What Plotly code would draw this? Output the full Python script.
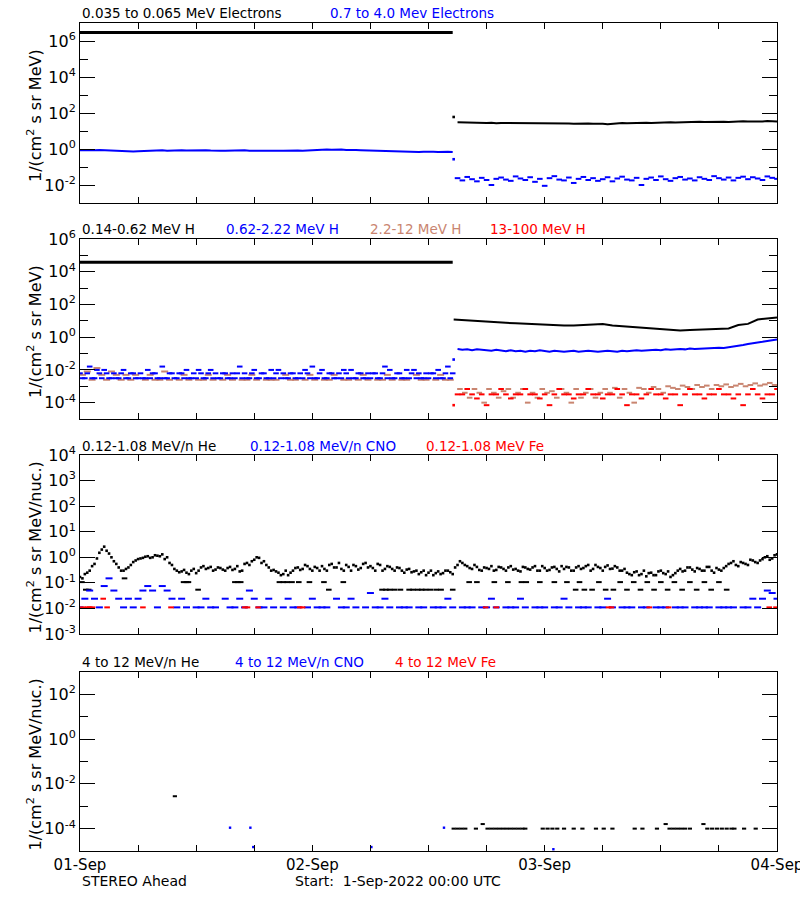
import numpy as np
import plotly.graph_objects as go

FONT = "DejaVu Sans"
BLUE = "#0000FF"
RED = "#FF0000"
BROWN = "#C98570"
BLACK = "#000000"

# ---------------- data (time in hours since 1-Sep-2022 00:00 UTC) ----------------
jump_t = 38.6

# Panel 1: electrons
e_lo_seg1_t = [0.0, 38.5]
e_lo_seg1 = [3.0e6, 3.0e6]
e_lo_jump = 60.0
e_lo_seg2 = [31, 30, 29, 30, 28, 29, 28, 29, 27, 28,
             28, 27, 28, 26, 27, 28, 27, 26, 27, 26,
             27, 26, 27, 26, 25, 26, 27, 26, 25, 26,
             25, 24, 26, 27, 28, 27, 28, 29, 28, 29,
             28, 29, 30, 29, 31, 30, 31, 32, 31, 32,
             33, 32, 33, 32, 34, 33, 32, 34, 33, 35,
             34, 33, 35, 34, 36, 35, 34]
e_hi_seg1 = [0.86, 0.84, 0.88, 0.85, 0.87, 0.84, 0.86, 0.80, 0.76, 0.74,
             0.75, 0.73, 0.74, 0.77, 0.75, 0.79, 0.82, 0.84, 0.81, 0.85,
             0.83, 0.86, 0.82, 0.84, 0.80, 0.83, 0.85, 0.82, 0.84, 0.81,
             0.80, 0.83, 0.79, 0.82, 0.84, 0.80, 0.81, 0.83, 0.80, 0.82,
             0.84, 0.81, 0.79, 0.82, 0.80, 0.83, 0.81, 0.84, 0.86, 0.88,
             0.91, 0.94, 0.90, 0.96, 0.93, 0.89, 0.92, 0.88, 0.86, 0.84,
             0.82, 0.84, 0.80, 0.82, 0.79, 0.75, 0.72, 0.68, 0.70, 0.67,
             0.69, 0.71, 0.68, 0.70, 0.69, 0.72, 0.70, 0.68]
e_hi_jump = 0.27
e_hi_seg2 = [0.024, 0.018, 0.028, 0.021, 0.016, 0.025, 0.019, 0.010, 0.022, 0.026,
             0.020, 0.017, 0.030, 0.023, 0.019, 0.027, 0.015, 0.022, 0.009, 0.024,
             0.031, 0.020, 0.018, 0.026, 0.013, 0.022, 0.028, 0.019, 0.024, 0.017,
             0.021, 0.027, 0.016, 0.023, 0.029, 0.020, 0.018, 0.025, 0.010, 0.022,
             0.026, 0.019, 0.030, 0.021, 0.017, 0.024, 0.028, 0.020, 0.023, 0.018,
             0.027, 0.022, 0.019, 0.031, 0.024, 0.020, 0.026, 0.018, 0.025, 0.029,
             0.021, 0.027, 0.023, 0.019, 0.030, 0.025, 0.022]

# Panel 2: protons
h1_seg1_t = [0.0, 38.5]
h1_seg1 = [3.8e4, 3.8e4]
h1_jump = 12.0
h1_seg2 = [11.5, 10.5, 9.5, 8.5, 8.0, 7.5, 7.0, 6.5, 6.2, 5.9,
           5.5, 5.2, 5.1, 5.6, 6.2, 6.3, 5.2, 4.7, 4.3, 3.8,
           3.4, 3.0, 2.7, 2.6, 2.7, 2.8, 2.9, 3.1, 3.4, 5.5,
           6.5, 12.0, 14.0, 16.0]
h2_seg1 = [0.0062, 0.0031, 0.016, 0.0031, 0.0062, 0.010, 0.0031, 0.0062, 0.0031, 0.010,
           0.0031, 0.0062, 0.0031, 0.0031, 0.010, 0.0062, 0.0031, 0.016, 0.0031, 0.0062,
           0.0031, 0.0062, 0.010, 0.0031, 0.0031, 0.0062, 0.0031, 0.010, 0.0062, 0.0031,
           0.0062, 0.0031, 0.0031, 0.016, 0.0062, 0.0031, 0.010, 0.0031, 0.0062, 0.0031,
           0.0031, 0.010, 0.0062, 0.0031, 0.0062, 0.0031, 0.0031, 0.0062, 0.016, 0.0031,
           0.010, 0.0031, 0.0062, 0.0031, 0.0031, 0.0062, 0.010, 0.0031, 0.0062, 0.0031,
           0.0031, 0.0062, 0.0031, 0.016, 0.010, 0.0031, 0.0062, 0.0031, 0.0031, 0.010,
           0.0062, 0.0031, 0.0031, 0.0062, 0.010, 0.0031, 0.016, 0.0062]
h2_seg1_b = [0.0031, 0.0062, 0.0031, 0.010, 0.0031, 0.0062, 0.0031, 0.0031, 0.0062, 0.0031,
             0.0062, 0.0031, 0.0062, 0.0031, 0.0031, 0.0062, 0.0031, 0.0031, 0.0062, 0.0031,
             0.0062, 0.0031, 0.0031, 0.0062, 0.010, 0.0031, 0.0062, 0.0031, 0.0031, 0.0062,
             0.0031, 0.0062, 0.0062, 0.0031, 0.0031, 0.0062, 0.0031, 0.0062, 0.0031, 0.010,
             0.0062, 0.0031, 0.0031, 0.0062, 0.0031, 0.0062, 0.010, 0.0031, 0.0031, 0.0062,
             0.0031, 0.0062, 0.0031, 0.0062, 0.010, 0.0031, 0.0031, 0.0062, 0.0031, 0.0062,
             0.0062, 0.0031, 0.0062, 0.0031, 0.0031, 0.0062, 0.0031, 0.010, 0.0062, 0.0031,
             0.0031, 0.0062, 0.0062, 0.0031, 0.0031, 0.0062, 0.0031]
h2_jump = 0.043
h2_seg2 = [0.19, 0.17, 0.18, 0.16, 0.18, 0.17, 0.16, 0.15, 0.17, 0.15,
           0.14, 0.16, 0.14, 0.15, 0.13, 0.15, 0.14, 0.16, 0.14, 0.13,
           0.15, 0.14, 0.13, 0.14, 0.15, 0.13, 0.14, 0.15, 0.14, 0.13,
           0.14, 0.15, 0.14, 0.13, 0.15, 0.14, 0.15, 0.16, 0.15, 0.16,
           0.16, 0.17, 0.16, 0.18, 0.17, 0.18, 0.19, 0.18, 0.20, 0.19,
           0.20, 0.21, 0.20, 0.22, 0.23, 0.22, 0.24, 0.26, 0.30, 0.33,
           0.38, 0.44, 0.48, 0.52, 0.58, 0.64, 0.72]
h3_seg1 = [0.005, 0.008, 0.0025, 0.013, 0.005, 0.0025, 0.008, 0.005, 0.0025, 0.005,
           0.0025, 0.005, None, 0.0025, 0.005, 0.0025, 0.0025, 0.008, 0.0025, None,
           0.0025, 0.005, 0.0025, None, 0.0025, 0.0025, 0.005, 0.0025, None, 0.0025,
           0.005, 0.0025, None, 0.0025, 0.0025, 0.005, 0.0025, None, 0.0025, 0.0025,
           0.0025, None, 0.005, 0.0025, 0.0025, None, 0.0025, 0.005, 0.0025, None,
           0.0025, 0.0025, 0.005, None, 0.0025, 0.0025, None, 0.0025, 0.005, 0.0025,
           None, 0.0025, 0.0025, 0.005, 0.0025, None, 0.0025, 0.0025, None, 0.005,
           0.0025, 0.0025, None, 0.0025, 0.005, 0.0025, 0.0025]
h3_seg2 = [6.8e-4, 4e-4, 2e-4, 6.8e-4, 4e-4, 1e-4, 6.8e-4, 4e-4, 2e-4, 5e-4,
           6.8e-4, 2e-4, 4e-4, 6.8e-4, 1e-4, 4e-4, 2e-4, 6.8e-4, 4e-4, 5e-4,
           2e-4, 6.8e-4, 4e-4, 1e-4, 6.8e-4, 2e-4, 4e-4, 6.8e-4, 2e-4, 4e-4,
           6.8e-4, 4e-4, 8e-4, 2e-4, 6.8e-4, 4e-4, 1e-4, 8e-4, 6.8e-4, 4e-4,
           9e-4, 6.8e-4, 4e-4, 1e-3, 8e-4, 6.8e-4, 1.1e-3, 9e-4, 6.8e-4, 1.2e-3,
           9e-4, 1.1e-3, 6.8e-4, 1.2e-3, 1e-3, 1.3e-3, 9e-4, 1.1e-3, 1.4e-3, 1e-3,
           1.2e-3, 1.5e-3, 1.1e-3, 1.3e-3, 1.6e-3, 1.2e-3]
h4_jump = 7e-5
h4_seg2 = [3.2e-4, 3.2e-4, 6.8e-4, 3.2e-4, 1.8e-4, 3.2e-4, 7e-5, 3.2e-4, 3.2e-4, 6.8e-4,
           3.2e-4, 1.8e-4, 3.2e-4, 3.2e-4, 6.8e-4, 3.2e-4, 3.2e-4, 1.8e-4, 3.2e-4, 7e-5,
           3.2e-4, 6.8e-4, 3.2e-4, 3.2e-4, 1.8e-4, 3.2e-4, 3.2e-4, 6.8e-4, 3.2e-4, 3.2e-4,
           1.8e-4, 3.2e-4, 3.2e-4, 6.8e-4, 3.2e-4, 7e-5, 3.2e-4, 3.2e-4, 1.8e-4, 3.2e-4,
           6.8e-4, 3.2e-4, 3.2e-4, 1.8e-4, 3.2e-4, 3.2e-4, 7e-5, 3.2e-4, 6.8e-4, 3.2e-4,
           3.2e-4, 1.8e-4, 3.2e-4, 3.2e-4, 6.8e-4, 3.2e-4, 3.2e-4, 1.8e-4, 3.2e-4, 7e-5,
           3.2e-4, 6.8e-4, 3.2e-4, 1.8e-4, 3.2e-4, 3.2e-4, 6.8e-4]

# Panel 3: 0.12-1.08 MeV/n heavy ions
he_a = [0.17, 0.22, 0.30, 0.55, 1.5, 2.6, 1.4, 0.7, 0.4, 0.3,
        0.4, 0.65, 0.85, 0.95, 1.1, 1.0, 1.15, 1.3, 1.0, 0.5,
        0.3, 0.28, 0.25, 0.3, 0.24, 0.4, 0.35, 0.42, 0.33, 0.38,
        0.3, 0.42, 0.35, 0.28, 0.55, 0.5, 0.8, 0.95, 0.7, 0.4,
        0.32, 0.25, 0.22, 0.2, 0.3, 0.4, 0.35, 0.45, 0.3, 0.38,
        0.45, 0.3, 0.55, 0.4, 0.35, 0.5, 0.3, 0.45, 0.38, 0.6,
        0.45, 0.3, 0.5, 0.35, 0.42, 0.3, 0.38, 0.25, 0.35, 0.28,
        0.22, 0.3, 0.25, 0.2, 0.28, 0.24, 0.3, 0.22, 0.5, 0.6,
        0.45, 0.35, 0.42, 0.3, 0.38, 0.45, 0.32, 0.4, 0.3, 0.45,
        0.35, 0.28, 0.4, 0.33, 0.45, 0.3, 0.38, 0.32, 0.42, 0.28,
        0.35, 0.4, 0.3, 0.45, 0.38, 0.5, 0.35, 0.42, 0.3, 0.48,
        0.36, 0.4, 0.3, 0.25, 0.2, 0.28, 0.22, 0.18, 0.25, 0.2,
        0.3, 0.22, 0.17, 0.24, 0.35, 0.3, 0.4, 0.28, 0.35, 0.3,
        0.42, 0.25, 0.33, 0.38, 0.55, 0.7, 0.45, 0.6, 0.5, 0.75,
        0.6, 0.85, 1.1, 0.9, 1.3]
he_b = [0.15, 0.25, 0.45, 0.9, 2.0, 1.8, 1.0, 0.55, 0.3, 0.35,
        0.5, 0.75, 0.9, 1.05, 0.95, 1.2, 1.1, 0.85, 0.6, 0.35,
        0.26, 0.32, 0.22, 0.35, 0.3, 0.45, 0.38, 0.3, 0.4, 0.33,
        0.38, 0.32, 0.45, 0.3, 0.6, 0.7, 1.0, 0.6, 0.5, 0.3,
        0.28, 0.2, 0.3, 0.25, 0.38, 0.32, 0.5, 0.35, 0.42, 0.3,
        0.35, 0.5, 0.4, 0.6, 0.3, 0.42, 0.5, 0.33, 0.55, 0.4,
        0.38, 0.55, 0.3, 0.45, 0.35, 0.4, 0.3, 0.33, 0.26, 0.3,
        0.26, 0.2, 0.3, 0.24, 0.22, 0.3, 0.26, 0.4, 0.7, 0.5,
        0.38, 0.5, 0.32, 0.4, 0.35, 0.3, 0.42, 0.35, 0.4, 0.33,
        0.3, 0.42, 0.35, 0.4, 0.3, 0.45, 0.3, 0.4, 0.35, 0.45,
        0.42, 0.3, 0.4, 0.35, 0.45, 0.3, 0.5, 0.38, 0.42, 0.35,
        0.45, 0.3, 0.35, 0.22, 0.26, 0.2, 0.3, 0.24, 0.2, 0.28,
        0.24, 0.28, 0.2, 0.3, 0.28, 0.4, 0.33, 0.38, 0.3, 0.42,
        0.3, 0.38, 0.3, 0.45, 0.6, 0.5, 0.65, 0.55, 0.8, 0.65,
        0.75, 1.0, 0.8, 1.2]
he_q_t = [0.2, 0.6, 0.9, 4.6, 10.7, 11.0, 11.2, 12.2, 16.0, 16.3, 16.6, 20.6, 21.0, 21.4,
          21.9, 22.6, 23.7, 25.2, 25.7, 27.2, 31.2, 31.6, 32.0, 32.5, 33.1, 34.0, 34.4,
          34.9, 35.3, 35.7, 36.2, 36.8, 37.3, 38.5, 40.2, 41.0, 42.8, 44.2, 45.6, 46.1,
          47.5, 49.0, 50.3, 51.2, 51.6, 52.1, 52.9, 53.6, 54.3, 55.1, 55.8, 56.5, 57.2,
          57.9, 58.6, 59.3, 60.0, 60.7, 61.4, 62.2, 63.0, 63.7, 64.5, 65.2, 66.0, 66.8]
he_q_v = [0.107, 0.054, 0.054, 0.15, 0.107, 0.107, 0.107, 0.054, 0.107, 0.107, 0.107, 0.107,
          0.107, 0.107, 0.107, 0.107, 0.107, 0.107, 0.054, 0.107, 0.054, 0.054, 0.054, 0.054,
          0.054, 0.054, 0.054, 0.054, 0.054, 0.054, 0.054, 0.054, 0.054, 0.054, 0.107, 0.107,
          0.107, 0.107, 0.107, 0.107, 0.107, 0.107, 0.107, 0.054, 0.107, 0.054, 0.054, 0.107,
          0.054, 0.054, 0.107, 0.054, 0.107, 0.054, 0.107, 0.054, 0.107, 0.054, 0.107, 0.054,
          0.107, 0.054, 0.107, 0.054, 0.107, 0.054]
cno = [0.011, 0.024, 0.05, 0.024, 0.011, 0.075, 0.15, 0.05, 0.024, 0.011,
       0.024, 0.011, 0.024, 0.05, 0.075, 0.05, 0.011, 0.075, 0.05, 0.024,
       0.011, 0.024, 0.011, None, 0.011, 0.011, 0.024, 0.011, 0.011, None,
       0.024, 0.011, 0.011, 0.024, 0.011, 0.05, 0.024, 0.011, 0.011, 0.024,
       0.011, None, 0.011, 0.024, 0.011, 0.011, None, 0.011, 0.024, 0.011,
       0.011, 0.011, None, 0.024, 0.011, 0.011, 0.024, 0.011, None, 0.011,
       0.04, 0.011, 0.011, 0.024, 0.011, None, 0.011, 0.011, 0.011, None,
       0.011, 0.011, None, 0.011, 0.011, 0.011, 0.024, 0.011, None, 0.011,
       0.011, 0.011, None, 0.011, 0.011, 0.024, 0.011, None, 0.011, 0.011,
       0.011, 0.024, 0.011, None, 0.011, 0.011, 0.011, None, 0.011, 0.011,
       0.024, 0.011, None, 0.011, 0.011, 0.011, None, 0.011, 0.011, 0.024,
       0.011, None, 0.011, 0.011, 0.011, None, 0.011, 0.011, None, 0.011,
       0.011, 0.011, None, 0.011, 0.011, 0.011, None, 0.011, 0.011, 0.011,
       0.011, None, 0.011, 0.011, 0.011, 0.011, None, 0.011, 0.011, 0.024,
       0.011, 0.024, 0.05, 0.04, 0.024]
fe_t = [0.3, 0.8, 1.0, 1.3, 2.4, 2.8, 6.5, 9.4, 17.0, 17.3, 18.4, 22.7, 23.0,
        41.9, 43.0, 54.6, 54.9, 58.8, 60.8, 71.2, 71.9]
fe_v = [0.011, 0.011, 0.011, 0.011, 0.024, 0.011, 0.011, 0.011, 0.011, 0.011, 0.011,
        0.011, 0.011, 0.011, 0.011, 0.011, 0.011, 0.011, 0.011, 0.011, 0.011]

# Panel 4: 4-12 MeV/n heavy ions
he4_t = [9.8, 38.6, 39.0, 39.4, 39.8, 40.9, 41.6, 42.1, 42.5, 42.9, 43.3, 43.7, 44.1, 44.5,
         44.9, 45.3, 45.7, 46.0, 47.8, 48.3, 48.8, 49.3, 50.0, 51.0, 51.9, 53.3, 54.1, 55.0,
         57.3, 58.1, 59.6, 60.5, 60.9, 61.3, 61.7, 62.1, 62.5, 63.0, 64.4, 64.8, 65.3, 65.8,
         66.3, 66.8, 67.3, 67.6, 68.6, 69.8]
he4_v = [2.8e-3, 1e-4, 1e-4, 1e-4, 1e-4, 1e-4, 1.6e-4, 1e-4, 1e-4, 1e-4, 1e-4, 1e-4, 1e-4,
         1e-4, 1e-4, 1e-4, 1e-4, 1e-4, 1e-4, 1e-4, 1e-4, 1e-4, 1e-4, 1e-4, 1e-4, 1e-4, 1e-4,
         1e-4, 1e-4, 1e-4, 1e-4, 1.6e-4, 1e-4, 1e-4, 1e-4, 1e-4, 1e-4, 1e-4, 1.6e-4, 1e-4,
         1e-4, 1e-4, 1e-4, 1e-4, 1e-4, 1e-4, 1e-4, 1e-4]
cno4_t = [15.5, 17.6, 17.9, 30.1, 37.6, 48.9]
cno4_v = [1.1e-4, 1.1e-4, 1.5e-5, 1.5e-5, 1.1e-4, 1.2e-5]

day_ticks = [0, 24, 48, 72]
day_labels = ["01-Sep", "02-Sep", "03-Sep", "04-Sep"]
six_hour_ticks = [6, 12, 18, 30, 36, 42, 54, 60, 66]

panel_titles = [
    [("0.035 to 0.065 MeV Electrons", BLACK, 80), ("0.7 to 4.0 Mev Electrons", BLUE, 328)],
    [("0.14-0.62 MeV H", BLACK, 80), ("0.62-2.22 MeV H", BLUE, 224),
     ("2.2-12 MeV H", BROWN, 368), ("13-100 MeV H", RED, 488)],
    [("0.12-1.08 MeV/n He", BLACK, 80), ("0.12-1.08 MeV/n CNO", BLUE, 248),
     ("0.12-1.08 MeV Fe", RED, 424)],
    [("4 to 12 MeV/n He", BLACK, 80), ("4 to 12 MeV/n CNO", BLUE, 233),
     ("4 to 12 MeV Fe", RED, 393)],
]
ytitles = ["1/(cm<sup>2</sup> s sr MeV)", "1/(cm<sup>2</sup> s sr MeV)",
           "1/(cm<sup>2</sup> s sr MeV/nuc.)", "1/(cm<sup>2</sup> s sr MeV/nuc.)"]

# ---------------- geometry (pixels) ----------------
W, H = 800, 900
X0, X1 = 80, 777
panels_px = [(23, 203), (239, 419), (455, 634), (672, 851)]
yranges = [(-3, 7), (-5, 6), (-3, 4), (-5, 3)]
ymajor = [[-2, 0, 2, 4, 6], [-4, -2, 0, 2, 4, 6], [-3, -2, -1, 0, 1, 2, 3, 4], [-4, -2, 0, 2]]
yminor = [[-1, 1, 3, 5], [-3, -1, 1, 3, 5], [], [-3, -1, 1]]
title_y = [13, 229, 446, 662]


def ty(p):
    return 1 - p / H


def half_hours(start, n):
    return list(start + 0.5 * np.arange(n))


fig = go.Figure()


def add(i, x, y, color, mode="markers", size=2.6, width=2.0, dash=False):
    ax = "" if i == 0 else str(i + 1)
    kw = dict(x=x, y=y, mode=mode, xaxis="x" + ax, yaxis="y" + ax,
              showlegend=False, hoverinfo="skip")
    if mode == "markers":
        if dash:
            kw["marker"] = dict(color=color, size=size, symbol="line-ew",
                                line=dict(width=2, color=color))
        else:
            kw["marker"] = dict(color=color, size=size, symbol="square", line=dict(width=0))
    else:
        kw["line"] = dict(color=color, width=width)
    fig.add_trace(go.Scatter(**kw))


# panel 1
add(0, e_lo_seg1_t, e_lo_seg1, BLACK, "lines", width=3)
add(0, [jump_t], [e_lo_jump], BLACK)
add(0, half_hours(39, len(e_lo_seg2)), e_lo_seg2, BLACK, "lines", width=2)
add(0, half_hours(0, len(e_hi_seg1)), e_hi_seg1, BLUE, "lines", width=2)
add(0, [jump_t], [e_hi_jump], BLUE)
add(0, half_hours(39, len(e_hi_seg2)), e_hi_seg2, BLUE, size=4, dash=True)
# panel 2
add(1, h1_seg1_t, h1_seg1, BLACK, "lines", width=3)
add(1, [jump_t] + list(39 + np.arange(len(h1_seg2))), [h1_jump] + h1_seg2, BLACK, "lines", width=2)
add(1, half_hours(0.25, len(h3_seg1)), h3_seg1, BROWN, size=5, dash=True)
add(1, half_hours(0, len(h2_seg1)), h2_seg1, BLUE, size=4, dash=True)
add(1, half_hours(0.25, len(h2_seg1_b)), h2_seg1_b, BLUE, size=4, dash=True)
add(1, [jump_t], [h2_jump], BLUE)
add(1, half_hours(39, len(h2_seg2)), h2_seg2, BLUE, "lines", width=2)
add(1, half_hours(39.25, len(h3_seg2)), h3_seg2, BROWN, size=4, dash=True)
add(1, [jump_t], [h4_jump], RED)
add(1, half_hours(39, len(h4_seg2)), h4_seg2, RED, size=4, dash=True)
# panel 3
add(2, half_hours(0, len(he_a)), he_a, BLACK)
add(2, half_hours(0.25, len(he_b)), he_b, BLACK)
add(2, he_q_t, he_q_v, BLACK, size=4, dash=True)
add(2, half_hours(0, len(cno)), cno, BLUE, size=5, dash=True)
add(2, fe_t, fe_v, RED, size=4, dash=True)
# panel 4
add(3, he4_t, he4_v, BLACK, size=3, dash=True)
add(3, cno4_t, cno4_v, BLUE, size=2.4)

layout = dict(width=W, height=H, margin=dict(l=0, r=0, t=0, b=0, autoexpand=False),
              paper_bgcolor="white", plot_bgcolor="white",
              font=dict(family=FONT, size=14, color="black"))

annotations = []
for i in range(4):
    ax = "" if i == 0 else str(i + 1)
    top, bot = panels_px[i]
    last = i == 3
    layout["xaxis" + ax] = dict(
        domain=[X0 / W, X1 / W], range=[0, 72], anchor="y" + ax,
        tickvals=day_ticks, ticktext=day_labels,
        showticklabels=last, ticks="inside", ticklen=6, tickwidth=1, tickcolor="black",
        minor=dict(tickvals=six_hour_ticks, ticks="inside", ticklen=6, tickwidth=1,
                   tickcolor="black", showgrid=False),
        showline=True, linecolor="black", linewidth=1, mirror="ticks",
        showgrid=False, zeroline=False, fixedrange=True, ticklabeloverflow="allow",
        tickfont=dict(family=FONT, size=15, color="black"))
    layout["yaxis" + ax] = dict(
        domain=[ty(bot), ty(top)], type="log", range=list(yranges[i]), anchor="x" + ax,
        tickvals=[10.0 ** e for e in ymajor[i]],
        ticktext=["10<sup>%d</sup>" % e for e in ymajor[i]],
        ticks="inside", ticklen=15, tickwidth=1, tickcolor="black",
        minor=dict(tickvals=[10.0 ** e for e in yminor[i]], ticks="inside", ticklen=8,
                   tickwidth=1, tickcolor="black", showgrid=False),
        showline=True, linecolor="black", linewidth=1, mirror="ticks",
        showgrid=False, zeroline=False, fixedrange=True,
        tickfont=dict(family=FONT, size=16, color="black"))
    for text, col, xpx in panel_titles[i]:
        annotations.append(dict(x=xpx / W, y=ty(title_y[i]), xref="paper", yref="paper",
                                xanchor="left", yanchor="middle", showarrow=False, text=text,
                                font=dict(family=FONT, size=13.5, color=col)))
    annotations.append(dict(x=35 / W, y=ty((top + bot) / 2 + 3), xref="paper", yref="paper",
                            xanchor="center", yanchor="middle", showarrow=False,
                            text=ytitles[i], textangle=-90,
                            font=dict(family=FONT, size=16, color="black")))

annotations.append(dict(x=80 / W, y=ty(881), xref="paper", yref="paper", xanchor="left",
                        yanchor="middle", showarrow=False, text="STEREO Ahead",
                        font=dict(family=FONT, size=14, color="black")))
annotations.append(dict(x=293 / W, y=ty(881), xref="paper", yref="paper", xanchor="left",
                        yanchor="middle", showarrow=False,
                        text="Start:  1-Sep-2022 00:00 UTC",
                        font=dict(family=FONT, size=14, color="black")))
layout["annotations"] = annotations
fig.update_layout(**layout)
fig.write_html("out.html")
